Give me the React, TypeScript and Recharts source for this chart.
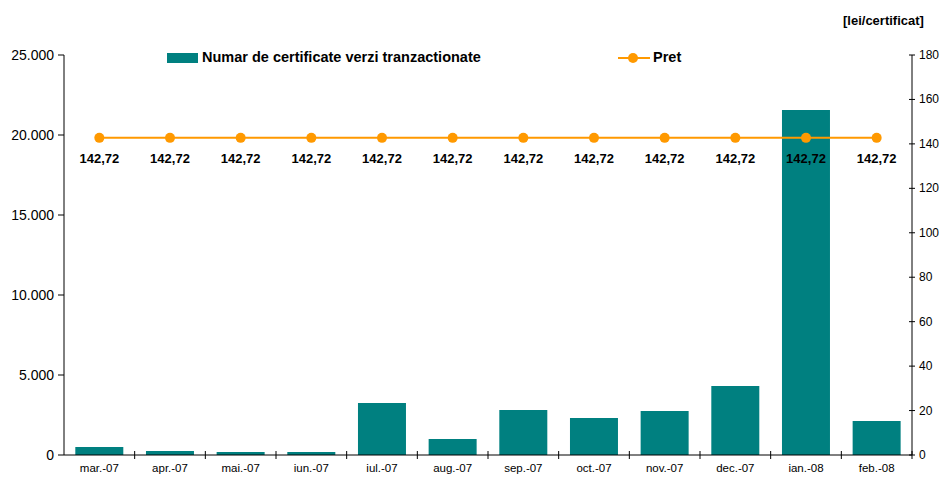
import React from "react";
import { ComposedChart, Bar, Line, XAxis, YAxis, LabelList } from "recharts";

const categories = ["mar.-07","apr.-07","mai.-07","iun.-07","iul.-07","aug.-07","sep.-07","oct.-07","nov.-07","dec.-07","ian.-08","feb.-08"];
const certificates = [500, 250, 190, 190, 3250, 1000, 2810, 2310, 2750, 4310, 21560, 2125];
const prices = [142.72, 142.72, 142.72, 142.72, 142.72, 142.72, 142.72, 142.72, 142.72, 142.72, 142.72, 142.72];
const leftTicks = [0, 5000, 10000, 15000, 20000, 25000];
const rightTicks = [0, 20, 40, 60, 80, 100, 120, 140, 160, 180];

const data = categories.map((c, i) => ({ cat: c, cert: certificates[i], pret: prices[i] }));

const W = 941;
const H = 477;
const LEFT = 64;
const RIGHT_W = 29;
const AXIS_Y = 455;
const BAND = (W - LEFT - RIGHT_W) / categories.length;
const FONT = "'Liberation Sans', Arial, sans-serif";
const TEAL = "#008080";
const ORANGE = "#FF9900";

const fmtThousands = (v: number) => String(v).replace(/\B(?=(\d{3})+(?!\d))/g, ".");

const XTick = (props: any) => {
  const { x, payload } = props;
  const bx = x + BAND / 2;
  return (
    <g>
      <line x1={bx} x2={bx} y1={AXIS_Y - 4} y2={AXIS_Y + 4} stroke="#000" strokeWidth={1} />
      <text x={x} y={AXIS_Y + 17} textAnchor="middle" fontSize={11.5} fontFamily={FONT} fill="#000">
        {payload.value}
      </text>
    </g>
  );
};

const RightTick = (props: any) => {
  const { y, payload } = props;
  const ax = W - RIGHT_W;
  return (
    <g>
      <line x1={ax - 3} x2={ax + 3} y1={y} y2={y} stroke="#000" strokeWidth={1} />
      <text x={ax + 7} y={y + 4} textAnchor="start" fontSize={12} fontFamily={FONT} fill="#000">
        {payload.value}
      </text>
    </g>
  );
};

const PriceLabel = (props: any) => {
  const { x, y, value } = props;
  return (
    <text x={x} y={y + 25} textAnchor="middle" fontSize={13} fontWeight="bold" fontFamily={FONT} fill="#000">
      {String(value.toFixed(2)).replace(".", ",")}
    </text>
  );
};

const textStyle: React.CSSProperties = { position: "absolute", fontFamily: FONT, fontSize: 14.5, fontWeight: "bold", color: "#000", whiteSpace: "nowrap", lineHeight: "17px" };

export default function App() {
  return (
    <div style={{ position: "absolute", left: 0, top: 0, width: W, height: H, background: "#fff", overflow: "hidden" }}>
      <ComposedChart width={W} height={H} data={data} margin={{ top: 55, right: 0, bottom: 0, left: 0 }} barCategoryGap="16%">
        <XAxis dataKey="cat" tick={<XTick />} tickLine={false} axisLine={{ stroke: "#000" }} height={22} interval={0} />
        <YAxis
          yAxisId="left"
          domain={[0, 25000]}
          ticks={leftTicks}
          tickFormatter={fmtThousands}
          width={LEFT}
          tickSize={6}
          tickMargin={4}
          axisLine={{ stroke: "#000" }}
          tickLine={{ stroke: "#000" }}
          tick={{ fill: "#000", fontSize: 14, fontFamily: FONT }}
        />
        <YAxis
          yAxisId="right"
          orientation="right"
          domain={[0, 180]}
          ticks={rightTicks}
          width={RIGHT_W}
          tickLine={false}
          axisLine={{ stroke: "#000" }}
          tick={<RightTick />}
        />
        <Bar yAxisId="left" dataKey="cert" fill={TEAL} isAnimationActive={false} />
        <Line
          yAxisId="right"
          dataKey="pret"
          stroke={ORANGE}
          strokeWidth={2}
          dot={{ r: 5, fill: ORANGE, stroke: ORANGE, strokeWidth: 0 }}
          isAnimationActive={false}
        >
          <LabelList dataKey="pret" content={<PriceLabel />} />
        </Line>
      </ComposedChart>
      <div style={{ position: "absolute", left: 167, top: 53, width: 31, height: 10, background: TEAL }} />
      <div style={{ ...textStyle, left: 202, top: 49 }}>Numar de certificate verzi tranzactionate</div>
      <svg style={{ position: "absolute", left: 618, top: 48 }} width={34} height={20}>
        <line x1={0} x2={32} y1={10} y2={10} stroke={ORANGE} strokeWidth={2} />
        <circle cx={15} cy={10} r={5} fill={ORANGE} />
      </svg>
      <div style={{ ...textStyle, left: 653, top: 49 }}>Pret</div>
      <div style={{ ...textStyle, fontSize: 13, left: 843, top: 12 }}>[lei/certificat]</div>
    </div>
  );
}
